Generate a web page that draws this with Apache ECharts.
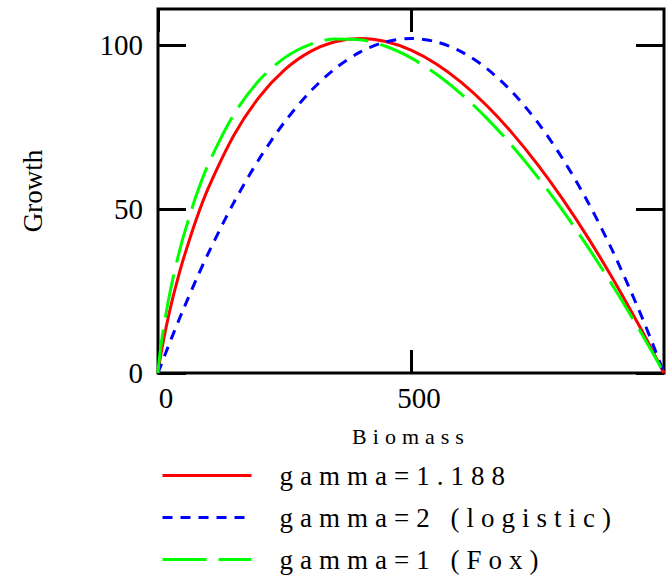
<!DOCTYPE html>
<html>
<head>
<meta charset="utf-8">
<script src="https://cdn.jsdelivr.net/npm/echarts@6/dist/echarts.min.js"></script>
<style>
html,body{margin:0;padding:0;background:#fff;}
#chart{width:669px;height:586px;}
</style>
</head>
<body>
<div id="chart"></div>
<script>
// Biomass values (x)
const biomass = [0, 2, 5, 10, 20, 30, 40, 50, 75, 100, 150, 200, 250, 300, 350, 400, 450, 500, 550, 600, 650, 700, 750, 800, 850, 900, 950, 975, 1000];
// Growth, gamma = 1.188
const growthGamma1188 = [0, 2.22, 5.08, 9.33, 16.78, 23.34, 29.26, 34.69, 46.59, 56.62, 72.51, 84.14, 92.43, 97.93, 101.02, 102.02, 101.08, 98.44, 94.22, 88.53, 81.48, 73.15, 63.62, 52.96, 41.21, 28.44, 14.69, 7.46, 0];
// Growth, gamma = 2 (logistic)
const growthLogistic = [0, 0.81, 2.03, 4.04, 8.00, 11.87, 15.67, 19.38, 28.31, 36.72, 52.02, 65.28, 76.50, 85.68, 92.82, 97.92, 100.98, 102.00, 100.98, 97.92, 92.82, 85.68, 76.50, 65.28, 52.02, 36.72, 19.38, 9.95, 0];
// Growth, gamma = 1 (Fox)
const growthFox = [0, 3.45, 7.35, 12.77, 21.69, 29.17, 35.70, 41.53, 53.87, 63.85, 78.90, 89.25, 96.10, 100.15, 101.88, 101.62, 99.63, 96.09, 91.17, 84.98, 77.64, 69.23, 59.83, 49.50, 38.30, 26.29, 13.51, 6.84, 0];
const seriesNames = ['gamma=1.188', 'gamma=2 (logistic)', 'gamma=1 (Fox)'];
const xTicks = [0, 500];
const yTicks = [0, 50, 100];

const pair = arr => biomass.map((b, i) => [b, arr[i]]);
const FONT = 'Liberation Serif';

const chart = echarts.init(document.getElementById('chart'), null, {renderer: 'svg'});
const tickStyle = () => ({color: '#000', width: 3});
chart.setOption({
  animation: false,
  backgroundColor: '#fff',
  grid: {left: 158, right: 5, top: 9, bottom: 213, show: true, borderColor: '#000', borderWidth: 3,
         containLabel: false, outerBoundsMode: 'none'},
  xAxis: [{
    type: 'value', min: 0, max: 1000, position: 'bottom',
    name: 'Biomass', nameLocation: 'middle', nameGap: 52,
    nameTextStyle: {fontFamily: FONT, fontSize: 22, color: '#000'},
    axisLine: {show: false, onZero: false},
    splitLine: {show: false},
    axisTick: {show: true, inside: true, length: 23, lineStyle: tickStyle(), customValues: xTicks},
    axisLabel: {fontFamily: FONT, fontSize: 29, color: '#000', margin: 10, padding: [0, 0, 0, 16], customValues: xTicks}
  }, {
    type: 'value', min: 0, max: 1000, position: 'top',
    axisLine: {show: false, onZero: false}, splitLine: {show: false},
    axisTick: {show: true, inside: true, length: 23, lineStyle: tickStyle(), customValues: xTicks},
    axisLabel: {show: true, formatter: () => '', customValues: xTicks}
  }],
  yAxis: [{
    type: 'value', min: 0, max: 111, position: 'left',
    name: 'Growth', nameLocation: 'middle', nameGap: 112, nameRotate: 90,
    nameTextStyle: {fontFamily: FONT, fontSize: 27, color: '#000'},
    axisLine: {show: false, onZero: false}, splitLine: {show: false},
    axisTick: {show: true, inside: true, length: 28, lineStyle: tickStyle(), customValues: yTicks},
    axisLabel: {fontFamily: FONT, fontSize: 29, color: '#000', margin: 15, padding: [10, 0, 0, 0], customValues: yTicks}
  }, {
    type: 'value', min: 0, max: 111, position: 'right',
    axisLine: {show: false, onZero: false}, splitLine: {show: false},
    axisTick: {show: true, inside: true, length: 28, lineStyle: tickStyle(), customValues: yTicks},
    axisLabel: {show: true, formatter: () => '', customValues: yTicks}
  }],
  legend: {
    orient: 'vertical', left: 156, top: 457,
    itemWidth: 89, itemHeight: 14, itemGap: 15,
    lineStyle: {width: 3},
    itemStyle: {opacity: 0},
    textStyle: {fontFamily: FONT, fontSize: 27, color: '#000', padding: [8, 0, 0, 23]},
    data: seriesNames
  },
  series: [
    {name: seriesNames[0], type: 'line', data: pair(growthGamma1188), symbol: 'none', smooth: 0.3,
     lineStyle: {color: '#ff0000', width: 3}, itemStyle: {color: '#ff0000'}},
    {name: seriesNames[1], type: 'line', data: pair(growthLogistic), symbol: 'none', smooth: 0.3,
     lineStyle: {color: '#0000ff', width: 3, type: [10, 8]}, itemStyle: {color: '#0000ff'}},
    {name: seriesNames[2], type: 'line', data: pair(growthFox), symbol: 'none', smooth: 0.3,
     lineStyle: {color: '#00ff00', width: 3, type: [44, 12]}, itemStyle: {color: '#00ff00'}}
  ]
});

const spacing = {'Biomass': 6, 'gamma=1.188': 7, 'gamma=2 (logistic)': 7, 'gamma=1 (Fox)': 7};
function applySpacing() {
  document.querySelectorAll('#chart svg text').forEach(t => {
    const s = t.textContent;
    if (spacing[s] != null) t.style.letterSpacing = spacing[s] + 'px';
  });
}
chart.on('finished', applySpacing);
setTimeout(applySpacing, 50);
</script>
</body>
</html>
